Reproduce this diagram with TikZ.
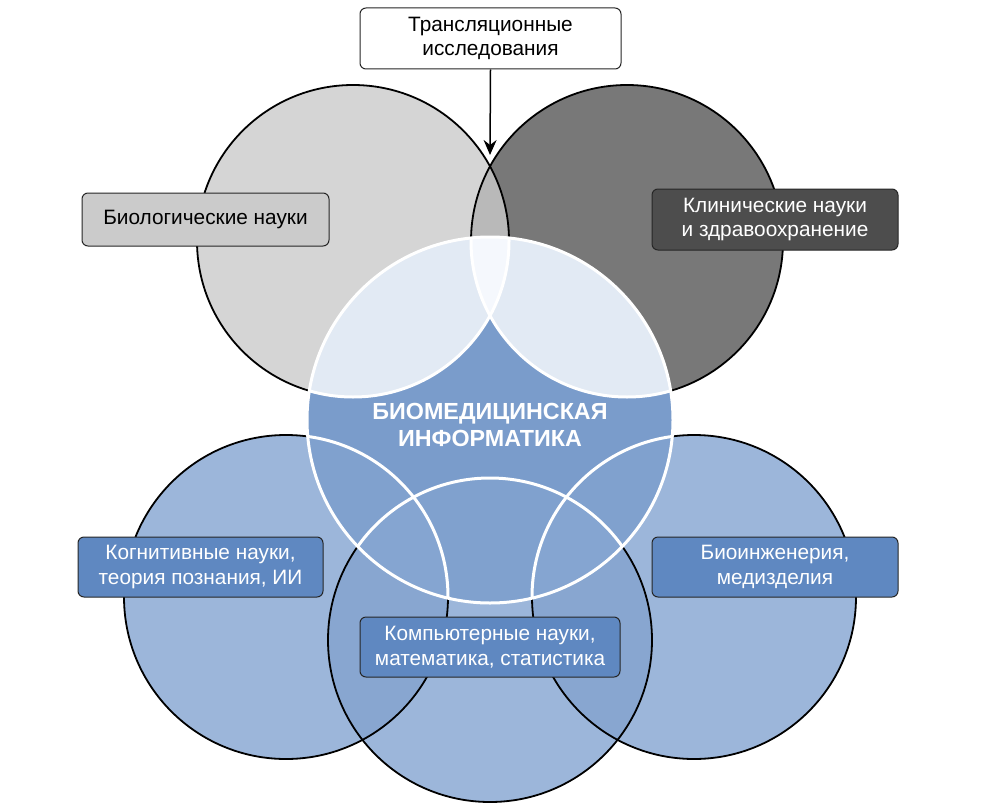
\documentclass[tikz,border=0pt]{standalone}
\usepackage{fontspec}
\setmainfont{Liberation Sans}
\usetikzlibrary{arrows.meta}
\definecolor{cTLf}{HTML}{D5D5D5}
\definecolor{cTRf}{HTML}{787878}
\definecolor{cLens}{HTML}{B9B9B9}
\definecolor{cBot}{HTML}{9CB6DA}
\definecolor{cBotOv}{HTML}{88A6D0}
\definecolor{cCen}{HTML}{7A9CCB}
\definecolor{cCenTop}{HTML}{E2EAF4}
\definecolor{cCenTopTwo}{HTML}{F5F8FD}
\definecolor{cCenBot}{HTML}{80A1CE}
\definecolor{cCenBotTwo}{HTML}{85A5D1}
\definecolor{boxBlue}{HTML}{5F88C1}
\definecolor{boxDark}{HTML}{4D4D4D}
\definecolor{boxGray}{HTML}{CBCBCB}
\def\cTL{(353,241) circle[radius=156pt]}
\def\cTR{(627,241) circle[radius=156pt]}
\def\cC{(490,420) circle[radius=183pt]}
\def\cBL{(286,597) circle[radius=162pt]}
\def\cBM{(490,640) circle[radius=162pt]}
\def\cBR{(694,597) circle[radius=162pt]}
\begin{document}
\begin{tikzpicture}[x=1pt,y=-1pt,
  blk/.style={draw=black, line width=1.8pt},
  wht/.style={draw=white, line width=3pt},
  lbl/.style={draw=black!85, line width=1pt, rounded corners=6pt, align=center,
    inner sep=0pt, font=\fontsize{20.8}{24.5}\selectfont},
  ]
\useasboundingbox (0,0) rectangle (998,808);
% top circles
\fill[cTLf] \cTL;
\fill[cTRf] \cTR;
\begin{scope}\clip \cTL; \fill[cLens] \cTR; \end{scope}
\draw[blk] \cTL;
\draw[blk] \cTR;
% bottom circles
\fill[cBot] \cBL;
\fill[cBot] \cBM;
\fill[cBot] \cBR;
\begin{scope}\clip \cBM; \fill[cBotOv] \cBL; \fill[cBotOv] \cBR; \end{scope}
\draw[blk] \cBL;
\draw[blk] \cBM;
\draw[blk] \cBR;
% central circle
\fill[cCen] \cC;
\begin{scope}
  \clip \cC;
  \fill[cCenTop] \cTL;
  \fill[cCenTop] \cTR;
  \begin{scope}\clip \cTL; \fill[cCenTopTwo] \cTR; \end{scope}
  \fill[cCenBot] \cBL;
  \fill[cCenBot] \cBM;
  \fill[cCenBot] \cBR;
  \begin{scope}\clip \cBM; \fill[cCenBotTwo] \cBL; \fill[cCenBotTwo] \cBR; \end{scope}
  \draw[wht] \cTL;
  \draw[wht] \cTR;
  \draw[wht] \cBL;
  \draw[wht] \cBM;
  \draw[wht] \cBR;
\end{scope}
\draw[wht] \cC;
% labels
\node[font=\bfseries\fontsize{23.3}{27.5}\selectfont, text=white, align=center] (bmi) at (490,425) {БИОМЕДИЦИНСКАЯ\\ИНФОРМАТИКА};
\node[lbl, fill=white, minimum width=261pt, minimum height=61pt] (trans) at (490.5,38.5) {Трансляционные\\исследования};
\node[lbl, fill=boxGray, minimum width=247pt, minimum height=53pt] (bio) at (205.5,219.5) {Биологические науки};
\node[lbl, fill=boxDark, text=white, minimum width=246pt, minimum height=61pt] (clin) at (775,219.5) {Клинические науки\\и здравоохранение};
\node[lbl, fill=boxBlue, text=white, minimum width=245pt, minimum height=60pt] (cog) at (200.5,567) {Когнитивные науки,\\теория познания, ИИ};
\node[lbl, fill=boxBlue, text=white, minimum width=260pt, minimum height=60pt] (comp) at (490,647) {Компьютерные науки,\\математика, статистика};
\node[lbl, fill=boxBlue, text=white, minimum width=246pt, minimum height=60pt] (bioeng) at (775,567) {Биоинженерия,\\медизделия};
\coordinate (tip) at (490,155);
\draw[-{Stealth[length=15pt,width=13pt,inset=5pt]}, line width=1.5pt] (trans.south) -- (tip);
\end{tikzpicture}
\end{document}
